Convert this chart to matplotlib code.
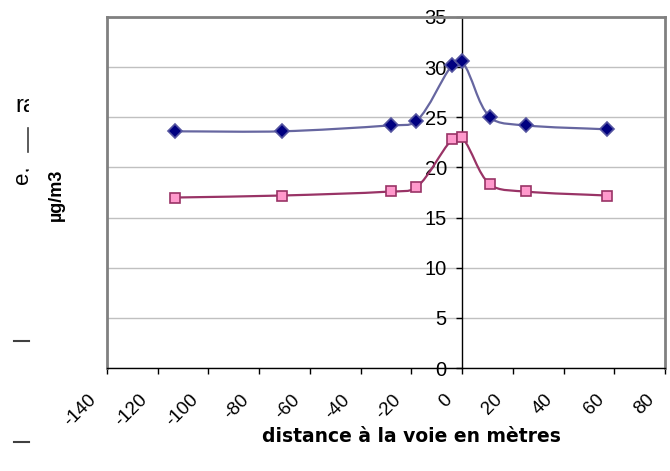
import matplotlib
matplotlib.use("Agg")
import matplotlib.pyplot as plt
from matplotlib.path import Path
from matplotlib.patches import PathPatch
from matplotlib.lines import Line2D
from matplotlib.transforms import ScaledTranslation, Bbox
import numpy as np

plt.rcParams['font.family'] = ['Liberation Sans', 'DejaVu Sans']

# ---- data ----
distance = [-113, -71, -28, -18, -4, 0, 11, 25, 57]
serie_haute = [23.6, 23.6, 24.2, 24.6, 30.2, 30.6, 25.0, 24.2, 23.8]
serie_basse = [17.0, 17.2, 17.6, 18.0, 22.8, 23.0, 18.3, 17.6, 17.2]
xticks = [-140, -120, -100, -80, -60, -40, -20, 0, 20, 40, 60, 80]
yticks = [0, 5, 10, 15, 20, 25, 30, 35]
xlabel = "distance à la voie en mètres"
ylabel = "µg/m3"

W, H = 670, 471
fig = plt.figure(figsize=(W / 100, H / 100), dpi=100)
ax = fig.add_axes([107 / W, 1 - 368 / H, (665 - 107) / W, (368 - 17) / H])
ax.set_xlim(-140, 80)
ax.set_ylim(0, 35)


def smooth_path(xs, ys, k=0.3):
    # smoothed line through the data points (Bezier, computed in display space)
    pts = ax.transData.transform(np.column_stack([xs, ys]).astype(float))
    n = len(pts)
    tang = []
    for i in range(n):
        d = pts[min(i + 1, n - 1)] - pts[max(i - 1, 0)]
        tang.append(d / np.hypot(*d))
    verts = [pts[0]]
    codes = [Path.MOVETO]
    for i in range(n - 1):
        seg = np.hypot(*(pts[i + 1] - pts[i]))
        c1 = pts[i] + tang[i] * seg * k
        c2 = pts[i + 1] - tang[i + 1] * seg * k
        verts += [c1, c2, pts[i + 1]]
        codes += [Path.CURVE4] * 3
    verts = ax.transData.inverted().transform(np.array(verts))
    return Path(verts, codes)


for ys, lc, mk, mfc, mec, ms in [
    (serie_haute, '#6666A0', 'D', '#000080', '#5555A0', 6.8),
    (serie_basse, '#993366', 's', '#FF99CC', '#993366', 7.5),
]:
    ax.add_patch(PathPatch(smooth_path(distance, ys), fill=False,
                           edgecolor=lc, linewidth=1.6, zorder=3))
    ax.plot(distance, ys, linestyle='none', marker=mk, markersize=ms,
            markerfacecolor=mfc, markeredgecolor=mec, markeredgewidth=1.2,
            zorder=4)

# grid
ax.set_yticks(yticks)
ax.yaxis.grid(True, color='#C0C0C0', linewidth=1.0)
ax.set_axisbelow(True)

# spines
for s in ['top', 'right']:
    ax.spines[s].set_color('#808080')
    ax.spines[s].set_linewidth(2.0)
ax.spines['left'].set_position(('data', 0))
ax.spines['left'].set_color('black')
ax.spines['left'].set_linewidth(1.0)
ax.spines['bottom'].set_color('black')
ax.spines['bottom'].set_linewidth(1.0)
ax.axvline(-140, color='#808080', linewidth=2.0, clip_on=False, zorder=1)

ax.tick_params(axis='y', direction='out', length=4, width=1, pad=7,
               labelsize=14.5, color='black')
ax.tick_params(axis='x', direction='out', length=4, width=1, pad=2,
               labelsize=13.5, color='black')
ax.set_xticks(xticks)
ax.set_xticklabels([str(v) for v in xticks], rotation=45, ha='right',
                   va='center', rotation_mode='anchor')
off = ScaledTranslation(-13 / 100, -21 / 100, fig.dpi_scale_trans)
for lab in ax.get_xticklabels():
    lab.set_transform(lab.get_transform() + off)

fig.text(411 / W, 1 - 437 / H, xlabel, ha='center', va='center',
         fontsize=13.5, fontweight='bold', family='DejaVu Sans')
fig.text(56 / W, 1 - 195 / H, ylabel, ha='center', va='center',
         rotation=90, fontsize=13, fontweight='bold')

# clipped remnants at the left edge
clip = Bbox.from_extents(0, 0, 29, H)
t1 = fig.text(15 / W, 1 - 106 / H, "ra", ha='left', va='center', fontsize=17)
t1.set_clip_box(clip)
t1.set_clip_on(True)
t2 = fig.text(23 / W, 1 - 175 / H, "e,", ha='center', va='center',
              fontsize=16, rotation=90)
t2.set_clip_box(clip)
t2.set_clip_on(True)
fig.add_artist(Line2D([28 / W, 28 / W], [1 - 128 / H, 1 - 152 / H],
                      color='#404040', linewidth=1.2))
for yy in (341, 442):
    fig.add_artist(Line2D([14 / W, 29 / W], [1 - yy / H, 1 - yy / H],
                          color='#404040', linewidth=1.5))

fig.savefig('out.png', dpi=100)
